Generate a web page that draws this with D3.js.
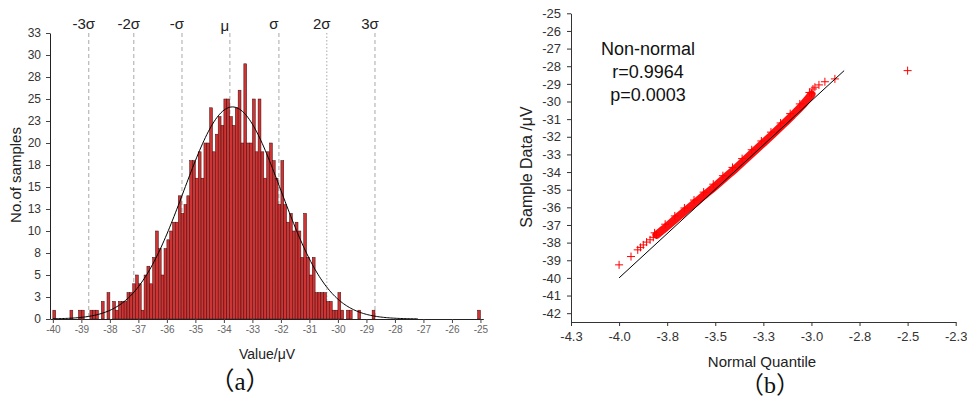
<!DOCTYPE html>
<html>
<head>
<meta charset="utf-8">
<script src="https://cdn.jsdelivr.net/npm/d3@7"></script>
<style>
  body { margin: 0; background: #fff; }
  svg { display: block; font-family: "Liberation Sans", Arial, sans-serif; }
</style>
</head>
<body>
<svg id="chart" width="967" height="399"></svg>
<script>
// ---- (a) histogram: counts per 0.1 uV bin, first bin starts at -40 uV
const binStart = -40;
const binWidth = 0.1;
const binCounts = [
  1, 0, 0, 0, 0, 0, 1, 0, 0, 1,
  1, 0, 0, 1, 1, 1, 0, 2, 0, 3,
  0, 2, 1, 2, 2, 2, 3, 3, 4, 5,
  4, 1, 5, 6, 4, 7, 10, 8, 5, 8,
  9, 10, 11, 11, 14, 12, 13, 14, 18, 18,
  16, 19, 16, 20, 20, 24, 19, 21, 23, 22,
  25, 25, 23, 22, 24, 26, 20, 29, 20, 20,
  25, 19, 25, 19, 16, 19, 20, 18, 16, 13,
  18, 13, 11, 12, 10, 11, 10, 7, 12, 7,
  5, 7, 3, 3, 3, 3, 2, 2, 1, 1,
  3, 1, 0, 1, 1, 0, 0, 1, 0, 0,
  0, 0, 1, 0, 0, 0, 0, 0, 0, 0,
  0, 0, 0, 0, 0, 0, 0, 0, 0, 0,
  0, 0, 0, 0, 0, 0, 0, 0, 0, 0,
  0, 0, 0, 0, 0, 0, 0, 0, 0, 1
];
const xTicksA = d3.range(-40, -24, 1);
const yTicksA = d3.range(0, 33, 2.5);

// fitted normal curve drawn over the histogram
const fitMean = -33.7;
const fitSd = 1.7;
const fitPeak = 24.1;
const fitRange = [-40, -27.2];

// sigma marker lines
const sigmaLabels = ["-3σ", "-2σ", "-σ", "μ", "σ", "2σ", "3σ"];
const sigmaValues = [-38.74, -37.16, -35.47, -33.79, -32.07, -30.39, -28.70];

// ---- (b) normal probability plot
// sparse markers at both ends plus the single outlier
const qqQuantile = [-4.000, -3.938, -3.903, -3.889, -3.874, -3.857, -3.839, -3.822, -3.805,
                    -3.000, -2.992, -2.982, -2.961, -2.930, -2.878, -2.500];
const qqSample = [-39.26, -38.79, -38.41, -38.27, -38.13, -37.97, -37.84, -37.70, -37.56,
                  -29.53, -29.29, -29.19, -29.06, -28.88, -28.72, -28.25];
// dense run of markers in the middle (they overlap into a band)
const bandQuantile = [-3.805, -3.75, -3.70, -3.65, -3.60, -3.55, -3.50, -3.45, -3.40,
                      -3.35, -3.30, -3.25, -3.20, -3.15, -3.10, -3.05, -3.00];
const bandSample = [-37.56, -37.07, -36.60, -36.15, -35.70, -35.25, -34.80, -34.32, -33.85,
                    -33.35, -32.85, -32.35, -31.85, -31.33, -30.80, -30.25, -29.60];
// reference line end points
const refQuantile = [-4.0, -2.83];
const refSample = [-40.0, -28.25];
const xTicksB = d3.range(-4.25, -2.24, 0.25);
const yTicksB = d3.range(-42, -24, 1);
const statLines = ["Non-normal", "r=0.9964", "p=0.0003"];

const svg = d3.select("#chart");

// ================= (a) =================
const xA = d3.scaleLinear().domain([-40.1, -24.9]).range([50, 483.3]);
const yA = d3.scaleLinear().domain([0, 32.5]).range([319, 33]);

svg.append("g").selectAll("line")
  .data(sigmaValues)
  .join("line")
  .attr("x1", d => xA(d)).attr("x2", d => xA(d))
  .attr("y1", yA(32.5)).attr("y2", yA(0))
  .attr("stroke", "#a8a8a8")
  .attr("stroke-width", 1)
  .attr("stroke-dasharray", (d, i) => i === 5 ? "1.5,2" : "4,3");

svg.append("g").selectAll("text")
  .data(sigmaLabels)
  .join("text")
  .attr("x", (d, i) => xA(sigmaValues[i]) - 5)
  .attr("y", (d, i) => i === 3 ? 31 : 29)
  .attr("text-anchor", "middle")
  .attr("font-size", 15)
  .attr("fill", "#222")
  .text(d => d);

const bars = binCounts.map((c, i) => ({ x0: binStart + i * binWidth, c: c })).filter(d => d.c > 0);
svg.append("g").selectAll("rect")
  .data(bars)
  .join("rect")
  .attr("x", d => xA(d.x0))
  .attr("width", d => xA(d.x0 + binWidth) - xA(d.x0))
  .attr("y", d => yA(d.c))
  .attr("height", d => yA(0) - yA(d.c))
  .attr("fill", "#cf3434")
  .attr("stroke", "#3c0808")
  .attr("stroke-width", 0.5);

const fitX = d3.range(fitRange[0], fitRange[1] + 0.001, 0.05);
const fitLine = d3.line()
  .x(d => xA(d))
  .y(d => yA(fitPeak * Math.exp(-0.5 * Math.pow((d - fitMean) / fitSd, 2))));
svg.append("path")
  .attr("d", fitLine(fitX))
  .attr("fill", "none")
  .attr("stroke", "#000")
  .attr("stroke-width", 1);

const axA_x = svg.append("g")
  .attr("transform", `translate(0,${yA(0)})`)
  .call(d3.axisBottom(xA).tickValues(xTicksA).tickSize(4).tickPadding(3).tickSizeOuter(0)
    .tickFormat(d => String(d)));
axA_x.selectAll("text").attr("font-size", 10).attr("fill", "#666").attr("font-family", null);
axA_x.select(".domain").attr("stroke", "#222");
axA_x.selectAll(".tick line").attr("stroke", "#444");

const axA_y = svg.append("g")
  .attr("transform", `translate(${xA(-40.1)},0)`)
  .call(d3.axisLeft(yA).tickValues(yTicksA).tickSize(4).tickPadding(5).tickSizeOuter(0)
    .tickFormat(d => String(Math.round(d))));
axA_y.selectAll("text").attr("font-size", 12).attr("fill", "#333").attr("font-family", null);
axA_y.select(".domain").attr("stroke", "#222");
axA_y.selectAll(".tick line").attr("stroke", "#444");

svg.append("text")
  .attr("transform", "translate(21,175) rotate(-90)")
  .attr("text-anchor", "middle")
  .attr("font-size", 15)
  .attr("fill", "#222")
  .text("No.of samples");

svg.append("text")
  .attr("x", 267).attr("y", 359)
  .attr("text-anchor", "middle")
  .attr("font-size", 14)
  .attr("fill", "#222")
  .text("Value/μV");

svg.append("text")
  .attr("x", 240).attr("y", 390)
  .attr("text-anchor", "middle")
  .attr("font-size", 25)
  .attr("font-family", "'Liberation Serif', 'Noto Sans CJK SC', serif")
  .attr("fill", "#111")
  .text("（a）");

// ================= (b) =================
const xB = d3.scaleLinear().domain([-4.25, -2.25]).range([571, 955.7]);
const yB = d3.scaleLinear().domain([-42.5, -25]).range([322, 13.3]);

const axB_x = svg.append("g")
  .attr("transform", `translate(0,${yB(-42.5)})`)
  .call(d3.axisBottom(xB).tickValues(xTicksB).tickSize(4).tickPadding(6).tickSizeOuter(0)
    .tickFormat(d => d.toFixed(1)));
axB_x.selectAll("text").attr("font-size", 13).attr("fill", "#333").attr("font-family", null);
axB_x.select(".domain").attr("stroke", "#333");
axB_x.selectAll(".tick line").attr("stroke", "#333");

const axB_y = svg.append("g")
  .attr("transform", `translate(${xB(-4.25)},0)`)
  .call(d3.axisLeft(yB).tickValues(yTicksB).tickSize(4).tickPadding(6).tickSizeOuter(0)
    .tickFormat(d => String(d)));
axB_y.selectAll("text").attr("font-size", 13).attr("fill", "#333").attr("font-family", null);
axB_y.select(".domain").attr("stroke", "#333");
axB_y.selectAll(".tick line").attr("stroke", "#333");

// dense band of overlapping markers
const bandPts = bandQuantile.map((q, i) => [xB(q), yB(bandSample[i])]);
svg.append("path")
  .attr("d", d3.line().curve(d3.curveMonotoneX)(bandPts))
  .attr("fill", "none")
  .attr("stroke", "#ff1010")
  .attr("stroke-width", 8)
  .attr("stroke-linecap", "round")
  .attr("stroke-linejoin", "round");

function plus(g, pts) {
  g.selectAll("path")
    .data(pts)
    .join("path")
    .attr("d", "M-4,0H4M0,-4V4")
    .attr("transform", d => `translate(${d[0]},${d[1]})`)
    .attr("stroke", "#ff0000")
    .attr("stroke-width", 1)
    .attr("fill", "none");
}
plus(svg.append("g"), bandPts.map(p => [p[0] - 2, p[1] - 2]));
plus(svg.append("g"), qqQuantile.map((q, i) => [xB(q), yB(qqSample[i])]));

svg.append("line")
  .attr("x1", xB(refQuantile[0])).attr("y1", yB(refSample[0]))
  .attr("x2", xB(refQuantile[1])).attr("y2", yB(refSample[1]))
  .attr("stroke", "#000")
  .attr("stroke-width", 1);

svg.append("g").selectAll("text")
  .data(statLines)
  .join("text")
  .attr("x", 648)
  .attr("y", (d, i) => 55 + i * 23)
  .attr("text-anchor", "middle")
  .attr("font-size", 18)
  .attr("fill", "#111")
  .text(d => d);

svg.append("text")
  .attr("transform", "translate(532,167) rotate(-90)")
  .attr("text-anchor", "middle")
  .attr("font-size", 16)
  .attr("fill", "#222")
  .text("Sample Data /μV");

svg.append("text")
  .attr("x", 762).attr("y", 367)
  .attr("text-anchor", "middle")
  .attr("font-size", 15)
  .attr("fill", "#222")
  .text("Normal Quantile");

svg.append("text")
  .attr("x", 770).attr("y", 393)
  .attr("text-anchor", "middle")
  .attr("font-size", 24)
  .attr("font-family", "'Liberation Serif', 'Noto Sans CJK SC', serif")
  .attr("fill", "#111")
  .text("（b）");
</script>
</body>
</html>
